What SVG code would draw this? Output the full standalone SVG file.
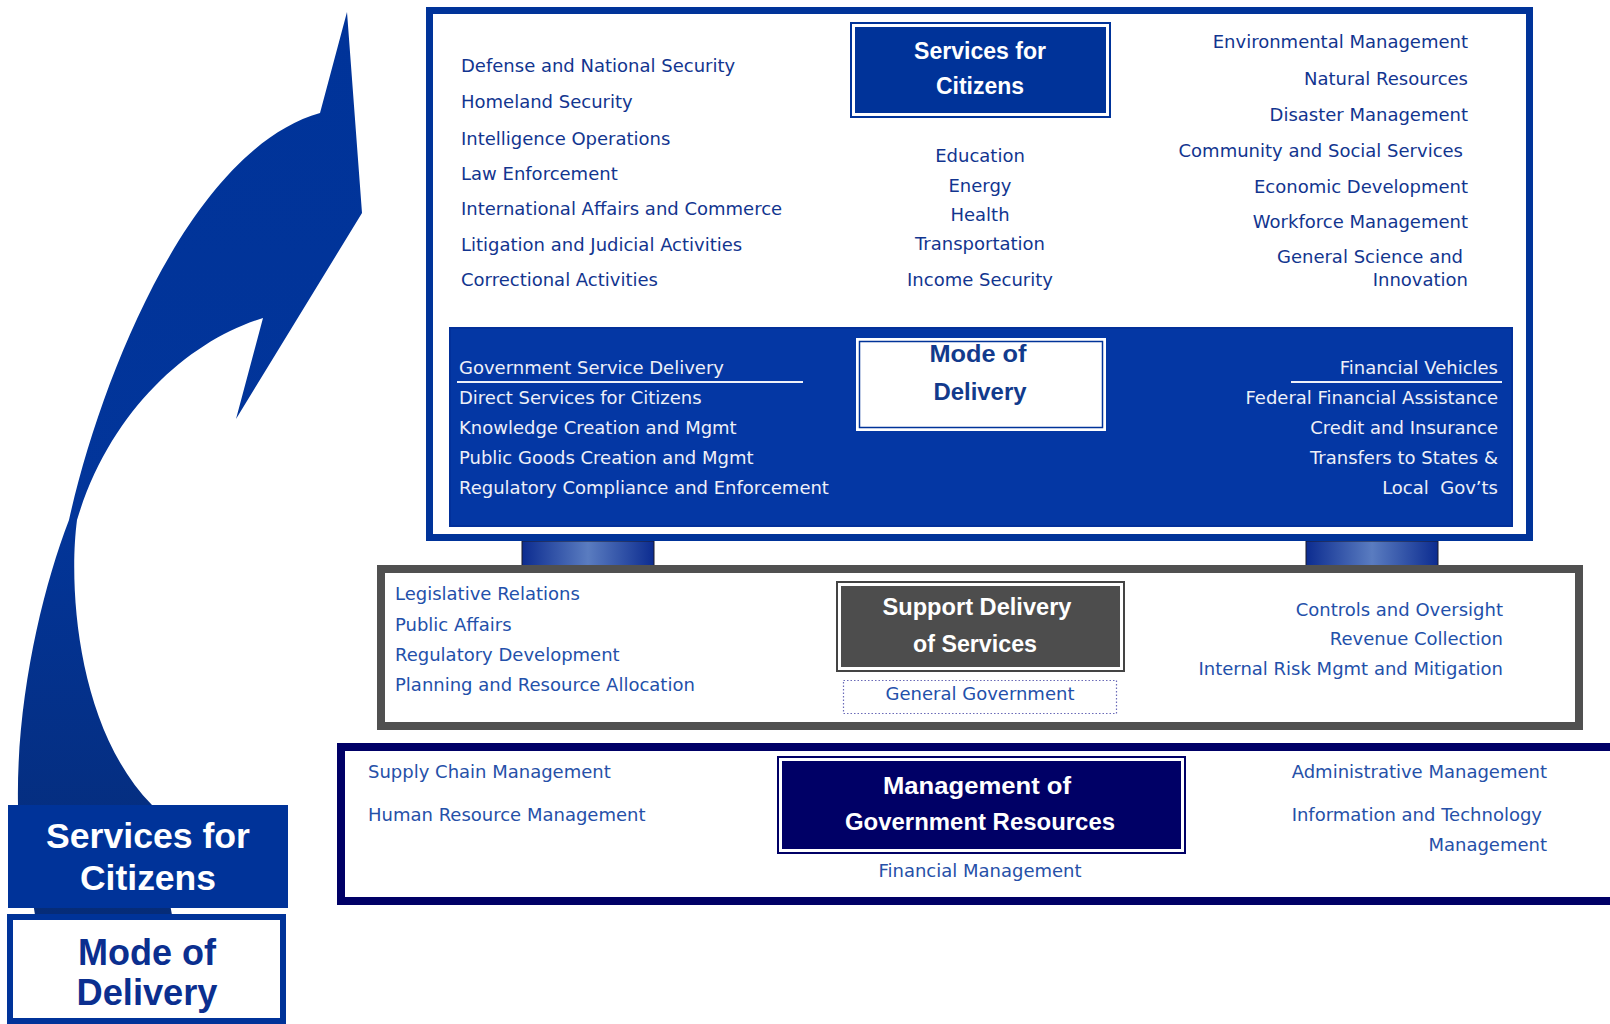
<svg xmlns="http://www.w3.org/2000/svg" width="1610" height="1024" viewBox="0 0 1610 1024">
<style>
.t{font-family:"DejaVu Sans","Liberation Sans",sans-serif;font-size:18px;}
.top{fill:#12358f;}
.band{fill:#eef0f8;}
.sup{fill:#2350aa;}
.bot{fill:#2650a8;}
.e{text-anchor:end;}
.m{text-anchor:middle;}
.h{font-family:"Liberation Sans",Arial,sans-serif;font-weight:bold;text-anchor:middle;}
</style>
<defs>
<linearGradient id="arrowGrad" x1="0" y1="0" x2="0" y2="1" gradientUnits="objectBoundingBox">
<stop offset="0" stop-color="#003399"/>
<stop offset="0.55" stop-color="#02359a"/>
<stop offset="1" stop-color="#062c78"/>
</linearGradient>
<linearGradient id="pillarGrad" x1="0" y1="0" x2="1" y2="0">
<stop offset="0" stop-color="#0c2c90"/>
<stop offset="0.5" stop-color="#5a7cc0"/>
<stop offset="1" stop-color="#0c2c90"/>
</linearGradient>
</defs>
<rect x="0" y="0" width="1610" height="1024" fill="#ffffff"/>

<g id="arrow">
<path d="M 35 915 L 18 805 C 16 700 42 590 69 520 C 100 380 190 150 320 113 L 347 12 L 362 213 L 236 419 L 263 318 C 190 340 110 410 77 520 C 68 590 78 730 152 805 L 172 915 Z" fill="url(#arrowGrad)"/>
</g>

<g id="connectors">
<rect x="522" y="541" width="132" height="25" fill="url(#pillarGrad)" stroke="#1a1a2a" stroke-width="1"/>
<rect x="1306" y="541" width="132" height="25" fill="url(#pillarGrad)" stroke="#1a1a2a" stroke-width="1"/>
</g>

<g id="legend-services">
<rect x="8" y="805" width="280" height="103" fill="#003399"/>
<text class="h" x="148" y="848" font-size="35" fill="#ffffff" textLength="204" lengthAdjust="spacingAndGlyphs">Services for</text>
<text class="h" x="148" y="890" font-size="35" fill="#ffffff" textLength="136" lengthAdjust="spacingAndGlyphs">Citizens</text>
</g>

<g id="legend-mode">
<rect x="10" y="917" width="273" height="104" fill="#ffffff" stroke="#003399" stroke-width="6"/>
<text class="h" x="147" y="965" font-size="36" fill="#0b2f8f" textLength="138" lengthAdjust="spacingAndGlyphs">Mode of</text>
<text class="h" x="147" y="1005" font-size="36" fill="#0b2f8f" textLength="141" lengthAdjust="spacingAndGlyphs">Delivery</text>
</g>

<g id="services-for-citizens">
<rect x="429.5" y="10.5" width="1100" height="527" fill="#ffffff" stroke="#003399" stroke-width="7"/>
<rect x="851" y="23" width="259" height="94" fill="#ffffff" stroke="#003399" stroke-width="2"/>
<rect x="855" y="27" width="251" height="86" fill="#003399"/>
<text class="h" x="980" y="59" font-size="23" fill="#ffffff" textLength="132" lengthAdjust="spacingAndGlyphs">Services for</text>
<text class="h" x="980" y="94" font-size="23" fill="#ffffff" textLength="88" lengthAdjust="spacingAndGlyphs">Citizens</text>
<text class="t top" x="461" y="72">Defense and National Security</text>
<text class="t top" x="461" y="108">Homeland Security</text>
<text class="t top" x="461" y="145">Intelligence Operations</text>
<text class="t top" x="461" y="180">Law Enforcement</text>
<text class="t top" x="461" y="215">International Affairs and Commerce</text>
<text class="t top" x="461" y="251">Litigation and Judicial Activities</text>
<text class="t top" x="461" y="286">Correctional Activities</text>
<text class="t top m" x="980" y="162">Education</text>
<text class="t top m" x="980" y="192">Energy</text>
<text class="t top m" x="980" y="221">Health</text>
<text class="t top m" x="980" y="250">Transportation</text>
<text class="t top m" x="980" y="286">Income Security</text>
<text class="t top e" x="1468" y="48">Environmental Management</text>
<text class="t top e" x="1468" y="85">Natural Resources</text>
<text class="t top e" x="1468" y="121">Disaster Management</text>
<text class="t top e" x="1463" y="157">Community and Social Services</text>
<text class="t top e" x="1468" y="193">Economic Development</text>
<text class="t top e" x="1468" y="228">Workforce Management</text>
<text class="t top e" x="1463" y="263">General Science and</text>
<text class="t top e" x="1468" y="286">Innovation</text>
</g>

<g id="mode-of-delivery">
<rect x="450" y="328" width="1062" height="198" fill="#0437a4" stroke="#02309a" stroke-width="2"/>
<rect x="856" y="338" width="250" height="93" fill="#ffffff"/>
<rect x="859.5" y="341.5" width="243" height="86" fill="#ffffff" stroke="#003399" stroke-width="1.5"/>
<text class="h" x="978" y="362" font-size="24" fill="#123a8c" textLength="97" lengthAdjust="spacingAndGlyphs">Mode of</text>
<text class="h" x="980" y="400" font-size="24" fill="#123a8c" textLength="93" lengthAdjust="spacingAndGlyphs">Delivery</text>
<text class="t band" x="459" y="374">Government Service Delivery</text>
<line x1="457" y1="382" x2="803" y2="382" stroke="#eef0f8" stroke-width="2"/>
<text class="t band" x="459" y="404">Direct Services for Citizens</text>
<text class="t band" x="459" y="434">Knowledge Creation and Mgmt</text>
<text class="t band" x="459" y="464">Public Goods Creation and Mgmt</text>
<text class="t band" x="459" y="494">Regulatory Compliance and Enforcement</text>
<text class="t band e" x="1498" y="374">Financial Vehicles</text>
<line x1="1291" y1="382" x2="1502" y2="382" stroke="#eef0f8" stroke-width="2"/>
<text class="t band e" x="1498" y="404">Federal Financial Assistance</text>
<text class="t band e" x="1498" y="434">Credit and Insurance</text>
<text class="t band e" x="1498" y="464">Transfers to States &amp;</text>
<text class="t band e" x="1498" y="494" xml:space="preserve">Local  Gov’ts</text>
</g>

<g id="support-delivery">
<rect x="381" y="569" width="1198" height="157" fill="#ffffff" stroke="#505050" stroke-width="8"/>
<rect x="837" y="582" width="287" height="89" fill="#ffffff" stroke="#444444" stroke-width="2"/>
<rect x="841" y="586" width="279" height="81" fill="#4d4d4d"/>
<text class="h" x="977" y="615" font-size="23.5" fill="#ffffff" textLength="189" lengthAdjust="spacingAndGlyphs">Support Delivery</text>
<text class="h" x="975" y="652" font-size="23.5" fill="#ffffff" textLength="124" lengthAdjust="spacingAndGlyphs">of Services</text>
<rect x="843.5" y="680.5" width="273" height="33" fill="#ffffff" stroke="#6a6ab8" stroke-width="1.2" stroke-dasharray="1.5 2"/>
<text class="t sup m" x="980" y="700">General Government</text>
<text class="t sup" x="395" y="600">Legislative Relations</text>
<text class="t sup" x="395" y="631">Public Affairs</text>
<text class="t sup" x="395" y="661">Regulatory Development</text>
<text class="t sup" x="395" y="691">Planning and Resource Allocation</text>
<text class="t sup e" x="1503" y="616">Controls and Oversight</text>
<text class="t sup e" x="1503" y="645">Revenue Collection</text>
<text class="t sup e" x="1503" y="675">Internal Risk Mgmt and Mitigation</text>
</g>

<g id="management-of-resources">
<rect x="341" y="747" width="1300" height="154" fill="#ffffff" stroke="#000066" stroke-width="8"/>
<rect x="778" y="757" width="407" height="96" fill="#ffffff" stroke="#000066" stroke-width="2"/>
<rect x="782" y="761" width="399" height="88" fill="#000066"/>
<text class="h" x="977" y="794" font-size="24.5" fill="#ffffff" textLength="188" lengthAdjust="spacingAndGlyphs">Management of</text>
<text class="h" x="980" y="830" font-size="24.5" fill="#ffffff" textLength="270" lengthAdjust="spacingAndGlyphs">Government Resources</text>
<text class="t bot m" x="980" y="877">Financial Management</text>
<text class="t bot" x="368" y="778">Supply Chain Management</text>
<text class="t bot" x="368" y="821">Human Resource Management</text>
<text class="t bot e" x="1547" y="778">Administrative Management</text>
<text class="t bot e" x="1542" y="821">Information and Technology</text>
<text class="t bot e" x="1547" y="851">Management</text>
</g>
</svg>
